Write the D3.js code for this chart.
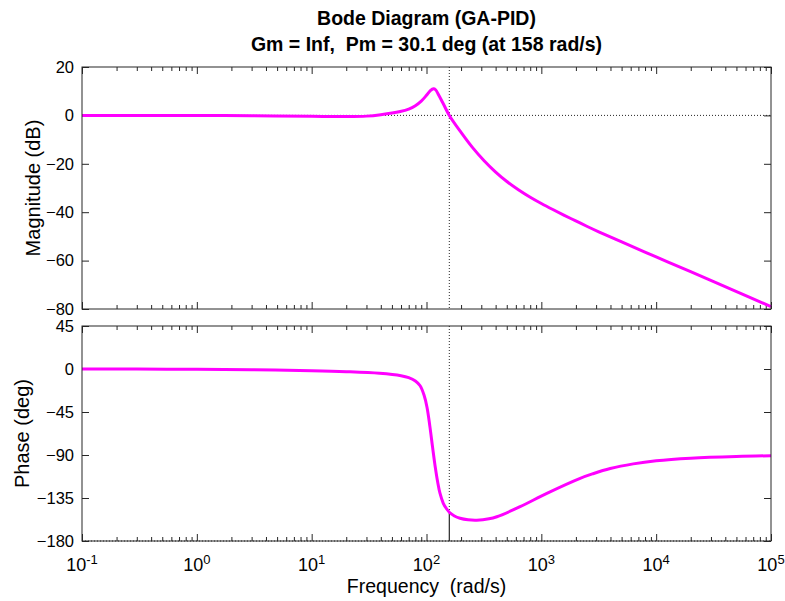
<!DOCTYPE html>
<html>
<head>
<meta charset="utf-8">
<script src="https://cdn.jsdelivr.net/npm/d3@7"></script>
<style>
  body { margin: 0; background: #fff; }
  svg { font-family: "Liberation Sans", Arial, sans-serif; }
</style>
</head>
<body>
<div id="chart"></div>
<script>
// values
const magFreq = [0.1, 0.3, 1, 3, 10, 20, 30, 40, 59, 70, 80, 90, 100, 108, 115, 120, 128, 140, 158, 200, 251, 316, 398, 501, 631, 794, 1000, 1259, 1585, 1995, 2512, 3162, 5012, 10000, 19953, 50119, 100000];
const magDb = [0, 0, -0.05, -0.15, -0.4, -0.5, -0.3, 0.3, 1.6, 2.6, 4.0, 5.9, 8.3, 10.2, 11.0, 10.6, 8.3, 4.8, 0, -7.0, -13.2, -18.6, -23.3, -27.3, -30.7, -33.7, -36.4, -38.9, -41.3, -43.6, -45.9, -48.1, -52.3, -58.5, -64.6, -72.8, -79];

const phaseFreq = [0.1, 0.3, 1, 3, 10, 20, 39, 60, 70, 80, 88, 95, 101, 107, 113, 119, 125, 131, 140, 150, 158, 175, 196, 230, 274, 350, 410, 653, 1117, 2178, 2818, 3981, 6310, 10000, 20000, 50000, 100000];
const phaseDeg = [0, -0.1, -0.3, -0.8, -1.8, -2.8, -4.5, -7, -9, -12.5, -17.5, -27, -40, -60, -82, -102, -118, -130, -140.5, -146.5, -149.9, -153.8, -156.2, -157.8, -158.2, -156.8, -154.6, -144.1, -130.1, -114.4, -109.6, -104.2, -99.3, -96.0, -93.3, -91.5, -90.8];

const crossFreq = 158;
const crossPhase = -149.9;

const xDecades = [-1, 0, 1, 2, 3, 4, 5];
const magTicks = [20, 0, -20, -40, -60, -80];
const phaseTicks = [45, 0, -45, -90, -135, -180];

const W = 785, H = 601;
const left = 82, right = 771;
const magTop = 67, magBottom = 309;
const phTop = 326, phBottom = 541;
const axisColor = "#262626";
const curveColor = "#ff00ff";

const svg = d3.select("#chart").append("svg")
  .attr("width", W).attr("height", H);

const x = d3.scaleLog().domain([0.1, 1e5]).range([left, right]);
const yMag = d3.scaleLinear().domain([-80, 20]).range([magBottom, magTop]);
const yPh = d3.scaleLinear().domain([-180, 45]).range([phBottom, phTop]);

const majors = xDecades.map(e => Math.pow(10, e));
const minors = [];
xDecades.slice(0, -1).forEach(e => {
  for (let k = 2; k <= 9; k++) minors.push(k * Math.pow(10, e));
});

function drawPanel(y, top, bottom, yTicks) {
  const g = svg.append("g");
  const addAxis = (axis, tx, ty) => {
    const a = g.append("g").attr("transform", `translate(${tx},${ty})`).call(axis);
    a.select(".domain").remove();
    a.selectAll("line").attr("stroke", axisColor);
    a.selectAll("text").attr("fill", "#000").style("font-size", "16.5px");
    return a;
  };
  // x ticks, bottom and top, pointing inwards
  addAxis(d3.axisBottom(x).tickValues(majors).tickSize(-7).tickFormat(""), 0, bottom);
  addAxis(d3.axisBottom(x).tickValues(minors).tickSize(-4).tickFormat(""), 0, bottom);
  addAxis(d3.axisTop(x).tickValues(majors).tickSize(-7).tickFormat(""), 0, top);
  addAxis(d3.axisTop(x).tickValues(minors).tickSize(-4).tickFormat(""), 0, top);
  // y ticks, left with labels, right without
  addAxis(d3.axisLeft(y).tickValues(yTicks).tickSize(-7).tickPadding(8), left, 0);
  addAxis(d3.axisRight(y).tickValues(yTicks).tickSize(-7).tickFormat(""), right, 0);
  return g;
}

const gMag = drawPanel(yMag, magTop, magBottom, magTicks);
const gPh = drawPanel(yPh, phTop, phBottom, phaseTicks);

// reference lines
const dotted = "1,2";
gMag.append("line")
  .attr("x1", left).attr("x2", right)
  .attr("y1", yMag(0)).attr("y2", yMag(0))
  .attr("stroke", axisColor).attr("stroke-width", 1).attr("stroke-dasharray", dotted);
gMag.append("line")
  .attr("x1", x(crossFreq)).attr("x2", x(crossFreq))
  .attr("y1", magTop).attr("y2", magBottom)
  .attr("stroke", axisColor).attr("stroke-width", 1).attr("stroke-dasharray", dotted);
gPh.append("line")
  .attr("x1", left).attr("x2", right)
  .attr("y1", yPh(-180)).attr("y2", yPh(-180))
  .attr("stroke", axisColor).attr("stroke-width", 1).attr("stroke-dasharray", dotted);
gPh.append("line")
  .attr("x1", x(crossFreq)).attr("x2", x(crossFreq))
  .attr("y1", phTop).attr("y2", yPh(crossPhase))
  .attr("stroke", axisColor).attr("stroke-width", 1).attr("stroke-dasharray", dotted);
gPh.append("line")
  .attr("x1", x(crossFreq)).attr("x2", x(crossFreq))
  .attr("y1", yPh(crossPhase)).attr("y2", phBottom)
  .attr("stroke", axisColor).attr("stroke-width", 1.2);

// curves
const magLine = d3.line()
  .x(d => x(d[0])).y(d => yMag(d[1]))
  .curve(d3.curveCatmullRom.alpha(0.5));
const phLine = d3.line()
  .x(d => x(d[0])).y(d => yPh(d[1]))
  .curve(d3.curveCatmullRom.alpha(0.5));

gMag.append("path")
  .datum(magFreq.map((f, i) => [f, magDb[i]]))
  .attr("d", magLine)
  .attr("fill", "none").attr("stroke", curveColor).attr("stroke-width", 3)
  .attr("stroke-linejoin", "round");
gPh.append("path")
  .datum(phaseFreq.map((f, i) => [f, phaseDeg[i]]))
  .attr("d", phLine)
  .attr("fill", "none").attr("stroke", curveColor).attr("stroke-width", 3)
  .attr("stroke-linejoin", "round");

// frames
[[magTop, magBottom], [phTop, phBottom]].forEach(([t, b]) => {
  svg.append("rect")
    .attr("x", left).attr("y", t)
    .attr("width", right - left).attr("height", b - t)
    .attr("fill", "none").attr("stroke", axisColor).attr("stroke-width", 1);
});

// x tick labels with exponents
const xl = svg.append("g");
majors.forEach((v, i) => {
  const t = xl.append("text")
    .attr("x", x(v)).attr("y", phBottom + 30)
    .attr("text-anchor", "middle")
    .style("font-size", "18px");
  t.append("tspan").text("10");
  t.append("tspan").attr("dy", "-0.55em").style("font-size", "13px").text(xDecades[i]);
});

// titles and labels
const cx = (left + right) / 2;
svg.append("text").attr("x", cx).attr("y", 25).attr("text-anchor", "middle")
  .style("font-size", "19.5px").style("font-weight", "bold")
  .text("Bode Diagram (GA-PID)");
svg.append("text").attr("x", cx).attr("y", 51).attr("text-anchor", "middle")
  .style("font-size", "19.5px").style("font-weight", "bold")
  .style("white-space", "pre")
  .text("Gm = Inf,  Pm = 30.1 deg (at 158 rad/s)");
svg.append("text").attr("x", cx).attr("y", 593).attr("text-anchor", "middle")
  .style("font-size", "19.5px").style("white-space", "pre")
  .text("Frequency  (rad/s)");
svg.append("text")
  .attr("transform", `translate(40,${(magTop + magBottom) / 2}) rotate(-90)`)
  .attr("text-anchor", "middle").style("font-size", "20px")
  .text("Magnitude (dB)");
svg.append("text")
  .attr("transform", `translate(29,${(phTop + phBottom) / 2}) rotate(-90)`)
  .attr("text-anchor", "middle").style("font-size", "20px")
  .text("Phase (deg)");
</script>
</body>
</html>
